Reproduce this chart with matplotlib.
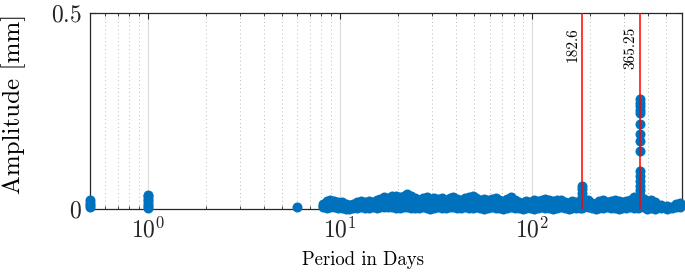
import matplotlib
matplotlib.use("Agg")
import matplotlib.pyplot as plt
from matplotlib.ticker import FixedLocator, FixedFormatter, LogLocator, NullFormatter

plt.rcParams["font.family"] = "cmr10"
plt.rcParams["mathtext.fontset"] = "cm"
plt.rcParams["axes.formatter.use_mathtext"] = True
plt.rcParams["axes.unicode_minus"] = False

# isolated short periods (days) and their amplitudes (mm)
half_day_amp = [0.004, 0.010, 0.016, 0.022]
one_day_amp = [0.002, 0.008, 0.014, 0.020, 0.026, 0.032, 0.036]
six_day_period = [5.94]
six_day_amp = [0.006]

# main band of periods
band_period = [8.13, 8.51, 8.91, 9.33, 9.77, 10.2, 10.7, 11.2, 11.7, 12.3,
               12.9, 13.5, 14.1, 14.8, 15.5, 16.2, 17.0, 17.8, 18.6, 19.5,
               20.4, 21.4, 22.4, 23.4, 24.5, 25.7, 26.9, 28.2, 29.5, 30.9,
               32.4, 33.9, 35.5, 37.2, 38.9, 40.7, 42.7, 44.7, 46.8, 49.0,
               51.3, 53.7, 56.2, 58.9, 61.7, 64.6, 67.6, 70.8, 74.1, 77.6,
               81.3, 85.1, 89.1, 93.3, 97.7, 102, 107, 112, 117, 123,
               129, 135, 141, 148, 155, 162, 170, 178, 195, 204,
               214, 224, 234, 245, 257, 269, 282, 295, 309, 324,
               339, 355, 380, 398, 417, 437, 468, 501, 537, 562, 589]
band_hi = [0.013, 0.020, 0.024, 0.020, 0.018, 0.017, 0.012, 0.010, 0.014, 0.017,
           0.020, 0.018, 0.021, 0.019, 0.022, 0.026, 0.030, 0.028, 0.032, 0.033,
           0.030, 0.034, 0.038, 0.034, 0.028, 0.024, 0.027, 0.030, 0.026, 0.029,
           0.025, 0.028, 0.024, 0.027, 0.030, 0.026, 0.023, 0.027, 0.030, 0.032,
           0.028, 0.024, 0.026, 0.022, 0.025, 0.028, 0.024, 0.020, 0.026, 0.030,
           0.024, 0.018, 0.016, 0.020, 0.018, 0.022, 0.020, 0.024, 0.026, 0.022,
           0.020, 0.024, 0.022, 0.018, 0.016, 0.020, 0.018, 0.020, 0.022, 0.016,
           0.014, 0.020, 0.022, 0.018, 0.020, 0.024, 0.020, 0.018, 0.020, 0.024,
           0.030, 0.020, 0.026, 0.020, 0.024, 0.018, 0.010, 0.008, 0.006, 0.012, 0.015]
band_mid = [0.008, 0.012, 0.014, 0.012, 0.010, 0.010, 0.007, 0.005, 0.008, 0.010,
            0.012, 0.011, 0.012, 0.011, 0.013, 0.015, 0.018, 0.016, 0.019, 0.020,
            0.018, 0.020, 0.022, 0.020, 0.016, 0.014, 0.016, 0.018, 0.015, 0.017,
            0.015, 0.016, 0.014, 0.016, 0.018, 0.015, 0.013, 0.016, 0.018, 0.019,
            0.016, 0.014, 0.015, 0.013, 0.014, 0.016, 0.014, 0.012, 0.015, 0.018,
            0.014, 0.011, 0.010, 0.012, 0.011, 0.013, 0.012, 0.014, 0.015, 0.013,
            0.012, 0.014, 0.013, 0.011, 0.010, 0.012, 0.011, 0.012, 0.013, 0.010,
            0.009, 0.012, 0.013, 0.011, 0.012, 0.014, 0.012, 0.011, 0.012, 0.014,
            0.017, 0.012, 0.015, 0.012, 0.014, 0.011, 0.006, 0.005, 0.004, 0.007, 0.009]
band_lo = [0.004, 0.003, 0.005, 0.004, 0.002, 0.003, 0.001, 0.000, 0.002, 0.003,
           0.004, 0.003, 0.002, 0.004, 0.003, 0.005, 0.006, 0.004, 0.005, 0.003,
           0.002, 0.004, 0.005, 0.003, 0.002, 0.003, 0.004, 0.002, 0.001, 0.003,
           0.004, 0.002, 0.003, 0.004, 0.005, 0.003, 0.002, 0.004, 0.003, 0.002,
           0.004, 0.002, 0.001, 0.003, 0.004, 0.002, 0.003, 0.001, 0.002, 0.004,
           0.003, 0.002, 0.001, 0.003, 0.002, 0.001, 0.003, 0.004, 0.002, 0.003,
           0.001, 0.002, 0.004, 0.003, 0.001, 0.002, 0.003, 0.002, 0.004, 0.002,
           0.001, 0.003, 0.002, 0.004, 0.003, 0.002, 0.001, 0.003, 0.002, 0.004,
           0.003, 0.002, 0.004, 0.001, 0.003, 0.000, 0.002, 0.001, 0.003, 0.004, 0.006]

# columns at the semi-annual and annual periods
semi_annual = 182.6
annual = 365.25
semi_annual_amp = [0.059, 0.050, 0.040, 0.030, 0.020, 0.010, 0.003]
annual_amp = [0.281, 0.272, 0.263, 0.254, 0.245, 0.217, 0.192, 0.174, 0.148,
              0.097, 0.085, 0.072, 0.060, 0.048, 0.036, 0.024, 0.012, 0.004]

blue = "#0072BD"
ms = 52

fig = plt.figure(figsize=(6.85, 2.77), dpi=100)
ax = fig.add_axes([90 / 685, 1 - 209 / 277, 591.7 / 685, 195.7 / 277])


def dots(x, y):
    ax.scatter(x, y, s=ms, c=blue, lw=0, zorder=3, clip_on=False)


dots([0.5] * len(half_day_amp), half_day_amp)
dots([1.0] * len(one_day_amp), one_day_amp)
dots(six_day_period, six_day_amp)
for amps in (band_lo, band_mid, band_hi):
    dots(band_period, amps)
dots([semi_annual] * len(semi_annual_amp), semi_annual_amp)
dots([annual] * len(annual_amp), annual_amp)

for p, lab in ((semi_annual, "182.6"), (annual, "365.25")):
    ax.axvline(p, color="red", lw=1.1, zorder=4)
    ax.annotate(lab, xy=(p, 0.465), xytext=(-2, 0), textcoords="offset points",
                rotation=90, ha="right", va="top", fontsize=11, zorder=5)

ax.set_xscale("log")
ax.set_xlim(0.5, 600)
ax.set_ylim(0, 0.5)
ax.xaxis.set_major_locator(FixedLocator([1, 10, 100]))
ax.xaxis.set_major_formatter(FixedFormatter([r"$10^{0}$", r"$10^{1}$", r"$10^{2}$"]))
ax.xaxis.set_minor_locator(LogLocator(base=10, subs=range(2, 10), numticks=20))
ax.xaxis.set_minor_formatter(NullFormatter())
ax.yaxis.set_major_locator(FixedLocator([0, 0.5]))
ax.yaxis.set_major_formatter(FixedFormatter([r"$0$", r"$0.5$"]))

ax.grid(True, which="major", axis="x", color="#dcdcdc", lw=0.8, ls="-", zorder=0)
ax.grid(True, which="minor", axis="x", color="#b8b8b8", lw=0.7, ls=(0, (1, 3)), zorder=0)

ax.tick_params(which="both", direction="in", top=True, right=True, colors="#262626")
ax.tick_params(which="major", length=4.5, width=0.8, labelsize=17, pad=6)
ax.tick_params(which="minor", length=2.5, width=0.6)
for sp in ax.spines.values():
    sp.set_color("#262626")
    sp.set_linewidth(0.9)

ax.set_xlabel("Period in Days", fontsize=13.5)
ax.xaxis.set_label_coords((363 - 90) / 591.7, -0.215)
ax.set_ylabel("Amplitude [mm]", fontsize=18)
ax.yaxis.set_label_coords(-0.108, 0.535)

fig.savefig("out.png", dpi=100)
